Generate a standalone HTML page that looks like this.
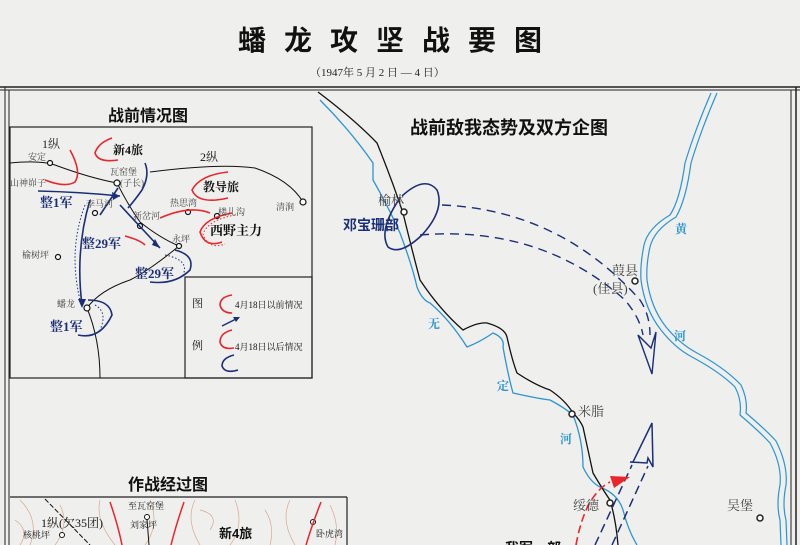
<!DOCTYPE html>
<html><head><meta charset="utf-8"><style>
html,body{margin:0;padding:0;background:#efefed;}
svg{display:block}
text{font-family:"Liberation Serif","Noto Serif CJK SC","Noto Sans CJK SC",serif;}
.b{font-family:"Liberation Sans","Noto Sans CJK SC",sans-serif;font-weight:bold;}
.s{font-size:10px;fill:#444;}
</style></head><body>
<svg width="800" height="545" viewBox="0 0 800 545" xmlns="http://www.w3.org/2000/svg">
<rect width="800" height="545" fill="#efefed"/>
<!-- title -->
<text x="238" y="50" class="b" font-size="28" fill="#111" letter-spacing="18">蟠龙攻坚战要图</text>
<text x="310" y="76" font-size="11" fill="#222">（1947年 5 月 2 日 — 4 日）</text>
<!-- frame -->
<line x1="0" y1="87" x2="800" y2="87" stroke="#222" stroke-width="1.5"/>
<line x1="0" y1="90" x2="800" y2="90" stroke="#222" stroke-width="1"/>
<line x1="5" y1="87" x2="5" y2="545" stroke="#222" stroke-width="1"/>
<line x1="9" y1="90" x2="9" y2="545" stroke="#222" stroke-width="1"/>
<line x1="791" y1="90" x2="791" y2="545" stroke="#222" stroke-width="1"/>
<line x1="796" y1="87" x2="796" y2="545" stroke="#222" stroke-width="1.5"/>

<!-- LEFT PANEL -->
<text x="108" y="121" class="b" font-size="16" fill="#111">战前情况图</text>
<rect x="10" y="127" width="302" height="251" fill="none" stroke="#222" stroke-width="1.2"/>
<rect x="185" y="277" width="127" height="101" fill="none" stroke="#222" stroke-width="1.2"/>
<g fill="none" stroke="#111" stroke-width="1">
<path d="M10,163 Q40,160 55,165 Q90,178 117,183"/>
<path d="M150,172 Q220,163 255,168 Q290,180 303,202"/>
<path d="M117,183 Q128,205 140,222 Q160,238 179,246"/>
<path d="M179,246 Q150,270 130,280 Q100,290 87,308 Q100,340 100,378"/>
</g>
<g fill="#fff" stroke="#111" stroke-width="1.2">
<circle cx="50" cy="163" r="2.5"/><circle cx="117" cy="183" r="3"/><circle cx="303" cy="202" r="3"/>
<circle cx="95" cy="213" r="2.5"/><circle cx="188" cy="212" r="2.5"/><circle cx="140" cy="226" r="2.5"/>
<circle cx="217" cy="216" r="2.5"/><circle cx="179" cy="246" r="2.5"/><circle cx="58" cy="257" r="2.5"/><circle cx="87" cy="308" r="3"/>
</g>
<g fill="none" stroke="#e8262c" stroke-width="1.6">
<path d="M70,150 Q82,172 75,182 Q65,188 45,180"/>
<path d="M112,138 Q98,143 95,153 Q98,163 118,160"/>
<path d="M228,172 Q200,175 192,190 Q198,205 228,198"/>
<path d="M232,213 Q205,218 200,232 Q205,248 222,242"/>
<path d="M160,218 Q190,205 210,213"/>
<path d="M125,236 Q140,240 145,245"/>
</g>
<path d="M232,213 Q205,218 200,232 Q205,248 222,242" fill="none" stroke="#e8262c" stroke-width="1" stroke-dasharray="1.5,2" transform="translate(3,2)"/>
<g fill="none" stroke="#1b2f78" stroke-width="1.6">
<path d="M38,191 Q80,192 120,196"/>
<path d="M145,163 Q150,175 142,190 Q135,200 128,208"/>
<path d="M100,215 Q110,200 118,188"/>
<path d="M90,200 Q75,250 82,305"/>
<path d="M120,205 Q145,232 160,248"/>
<path d="M175,250 Q195,255 190,270 Q175,285 150,282"/>
<path d="M88,300 Q110,300 112,315 Q100,340 78,335"/>
</g>
<g fill="none" stroke="#1b2f78" stroke-width="1" stroke-dasharray="1.5,2">
<path d="M85,205 Q68,250 80,300"/><path d="M95,305 Q108,312 100,330"/><path d="M165,255 Q190,260 183,275"/>
</g>
<g fill="#1b2f78"><path d="M120,196 l-8,-4 l1,8z"/><path d="M82,308 l-4,-9 l8,0z"/><path d="M160,248 l-8,-3 l3,-6z"/></g>
<g class="b" fill="#111" font-size="12">
<text x="42" y="148" style="font-weight:normal;font-size:12px;fill:#222">1纵</text>
<text x="113" y="154">新4旅</text>
<text x="200" y="161" style="font-weight:normal;font-size:12px">2纵</text>
<text x="203" y="191">教导旅</text>
<text x="210" y="235" font-size="13">西野主力</text>
</g>
<g fill="#1b2f78" class="b" font-size="13">
<text x="40" y="207">整1军</text><text x="82" y="248">整29军</text><text x="135" y="278">整29军</text><text x="50" y="331">整1军</text>
</g>
<g class="s" style="font-size:9px">
<text x="28" y="160">安定</text><text x="10" y="186">山神峁子</text><text x="110" y="175">瓦窑堡</text><text x="120" y="186">(子长)</text>
<text x="86" y="207">李马河</text><text x="170" y="206">热思湾</text><text x="133" y="219">新岔河</text><text x="218" y="215">楼儿沟</text>
<text x="172" y="242">永坪</text><text x="22" y="258">榆树坪</text><text x="57" y="307">蟠龙</text><text x="276" y="210">清涧</text>
</g>
<text x="192" y="307" font-size="11" fill="#111">图</text><text x="192" y="349" font-size="11" fill="#111">例</text>
<path d="M232,295 Q220,297 220,305 Q222,313 232,313" fill="none" stroke="#e8262c" stroke-width="1.6"/>
<text x="235" y="308" font-size="9" fill="#111">4月18日以前情况</text>
<path d="M222,326 L238,318" stroke="#1b2f78" stroke-width="1.5"/><path d="M240,317 l-7,0 l3,5z" fill="#1b2f78"/>
<path d="M232,330 Q220,333 220,342 Q222,350 234,348" fill="none" stroke="#e8262c" stroke-width="1.6"/>
<text x="235" y="350" font-size="9" fill="#111">4月18日以后情况</text>
<path d="M234,355 Q222,358 222,366 Q225,374 238,370" fill="none" stroke="#1b2f78" stroke-width="1.6"/>

<!-- BOTTOM LEFT PANEL -->
<text x="128" y="490" class="b" font-size="16" fill="#111">作战经过图</text>
<line x1="10" y1="497" x2="347" y2="497" stroke="#222" stroke-width="1.2"/>
<line x1="347" y1="497" x2="347" y2="545" stroke="#222" stroke-width="1.2"/>
<g fill="none" stroke="#d9a890" stroke-width="0.7">
<path d="M20,500 Q40,520 30,545"/><path d="M60,505 Q70,525 55,545"/><path d="M100,500 Q95,520 115,545"/>
<path d="M150,500 Q160,525 145,545"/><path d="M195,500 Q185,520 200,545"/><path d="M235,500 Q245,525 230,545"/>
<path d="M265,510 Q275,525 270,545"/><path d="M290,500 Q280,520 295,545"/><path d="M330,505 Q340,525 335,545"/>
<path d="M15,520 Q30,530 20,545"/><path d="M200,510 Q220,515 210,530"/>
</g>
<path d="M45,499 L90,545" stroke="#111" stroke-width="1" stroke-dasharray="5,2"/>
<line x1="147" y1="519" x2="149" y2="545" stroke="#111" stroke-width="1"/>
<circle cx="147" cy="517" r="2.5" fill="#fff" stroke="#111"/>
<circle cx="62" cy="535" r="2.5" fill="#fff" stroke="#111"/>
<circle cx="313" cy="522" r="2.5" fill="#fff" stroke="#111"/>
<g fill="none" stroke="#e8262c" stroke-width="1.5">
<path d="M110,502 Q118,525 122,545"/><path d="M184,502 Q176,525 171,545"/><path d="M321,502 Q312,525 306,545"/>
</g>
<g fill="#222" font-size="9"><text x="128" y="509">至瓦窑堡</text><text x="130" y="528">刘家坪</text><text x="23" y="538">核桃坪</text><text x="316" y="537">卧虎湾</text></g>
<text x="41" y="527" font-size="12" fill="#111">1纵(欠35团)</text>
<text x="219" y="538" class="b" font-size="13" fill="#111">新4旅</text>

<!-- RIGHT PANEL -->
<text x="410" y="134" class="b" font-size="18" fill="#111">战前敌我态势及双方企图</text>
<path d="M320,100 Q350,130 373,163 L373,180 Q390,210 400,233 Q412,265 417,287 Q422,300 430,303 Q450,320 467,347 Q480,342 493,333 Q505,338 503,347 Q508,375 513,393 Q535,398 550,400 Q565,408 573,415 Q583,440 583,467 Q590,482 600,487 Q618,494 623,510 Q628,530 637,545" fill="none" stroke="#2b95d1" stroke-width="1.3"/>
<path d="M318,92 Q355,120 377,143 Q392,180 403,213 Q412,250 420,280 Q440,310 463,330 Q478,322 487,323 Q505,328 507,337 Q512,360 517,373 Q535,385 550,390 Q565,400 573,413 Q580,420 583,427 Q588,450 593,473 Q603,490 610,500 Q616,520 618,545" fill="none" stroke="#111" stroke-width="1.3"/>
<g fill="none" stroke="#2b95d1" stroke-width="1.2">
<path d="M711,93 Q695,130 685,163 Q680,200 670,215 Q648,228 644,245 Q640,265 641,280 Q645,310 661,330 Q675,348 692,357 Q720,372 735,387 Q742,400 740,415 Q760,432 770,443 Q782,465 780,485 Q776,505 780,520 L781,545"/>
<path d="M717,93 Q701,130 691,163 Q686,200 676,217 Q654,230 650,247 Q646,265 647,280 Q651,308 666,327 Q680,344 697,353 Q725,368 741,385 Q748,400 746,413 Q766,430 776,441 Q788,465 786,485 Q782,505 786,520 L787,545"/>
</g>
<g fill="#2b95d1" font-size="12" class="b"><text x="428" y="328">无</text><text x="497" y="390">定</text><text x="560" y="443">河</text><text x="675" y="233">黄</text><text x="674" y="340">河</text></g>
<path d="M402,196 Q425,175 437,190 Q445,210 422,235 Q400,256 388,247 Q378,230 400,198" fill="none" stroke="#1b2f78" stroke-width="1.6"/>
<g fill="none" stroke="#1b2f78" stroke-width="1.4" stroke-dasharray="9,6">
<path d="M442,205 Q560,210 640,300 Q650,315 650,335"/>
<path d="M420,235 Q540,225 625,300 Q640,318 643,335"/>
</g>
<path d="M638,335 L652,374 L656,332 L651,348 Z" fill="none" stroke="#1b2f78" stroke-width="1.4"/>
<g fill="none" stroke="#1b2f78" stroke-width="1.5" stroke-dasharray="9,5">
<path d="M595,545 L632,465"/><path d="M612,545 L648,466"/>
</g>
<path d="M633,462 L652,423 L653,467 L648,458 L647,463 L630,462 Z" fill="none" stroke="#1b2f78" stroke-width="1.5"/>
<path d="M576,545 Q585,495 610,482" fill="none" stroke="#e8262c" stroke-width="1.6" stroke-dasharray="8,4"/>
<path d="M630,477 L610,476 L614,488 Z" fill="#e8262c"/>
<g fill="#fff" stroke="#222" stroke-width="1.5">
<circle cx="404" cy="212" r="3"/><circle cx="635" cy="281" r="3"/><circle cx="572" cy="414" r="3"/><circle cx="610" cy="503" r="3"/><circle cx="760" cy="518" r="3"/>
</g>
<g font-size="13" fill="#444">
<text x="378" y="205">榆林</text><text x="612" y="275">葭县</text><text x="593" y="293">(佳县)</text>
<text x="578" y="416">米脂</text><text x="573" y="510">绥德</text><text x="727" y="510">吴堡</text>
</g>
<text x="343" y="230" class="b" font-size="14" fill="#1b2f78">邓宝珊部</text>
<text x="505" y="553" class="b" font-size="14" fill="#111">我军一部</text>
</svg>
</body></html>
